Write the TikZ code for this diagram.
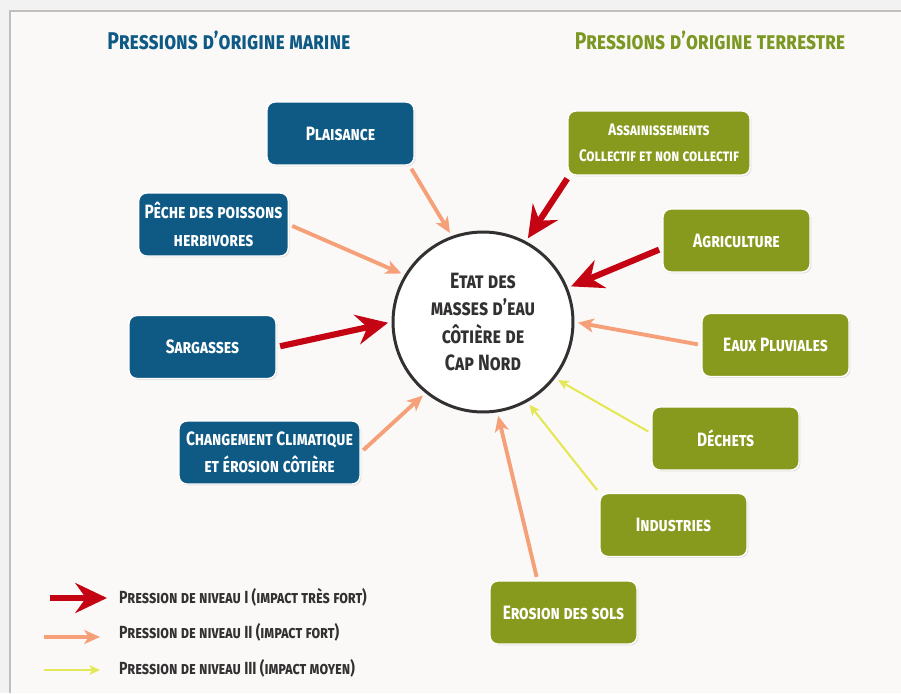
\documentclass[tikz,border=0pt]{standalone}
\usepackage{fontspec}
\setmainfont{Fira Sans}[FakeStretch=0.8]
\usepackage{tikz}
\usetikzlibrary{arrows.meta, %
                shadows, positioning}

\definecolor{BleuMer}{RGB}{14,90,133}
\definecolor{VertTerre}{RGB}{136,154,30}
\definecolor{VertTitre}{RGB}{124,152,36}
\definecolor{RougeFort}{RGB}{196,4,18}
\definecolor{Saumon}{RGB}{245,160,120}
\definecolor{JauneVert}{RGB}{228,232,86}
\definecolor{Fond}{RGB}{251,249,247}
\definecolor{Encre}{RGB}{50,48,48}

\begin{document}
\begin{tikzpicture}[x=0.02cm, y=-0.02cm]
    \tikzset{BoxStyle/.style = {rectangle, rounded corners=4.5pt, draw=white, line width=0.8pt,
        text=white, align=center, minimum width=2.94cm, minimum height=1.26cm,
        font=\fontsize{11}{15.5}\selectfont\bfseries\scshape,
        drop shadow={opacity=0.2, shadow xshift=0.8pt, shadow yshift=-0.8pt}}}
    \tikzset{MarineStyle/.style = {BoxStyle, fill=BleuMer}}
    \tikzset{TerreStyle/.style = {BoxStyle, fill=VertTerre}}
    \tikzset{EtatStyle/.style = {circle, draw=Encre, line width=1.7pt, fill=white,
        minimum size=3.6cm, inner sep=0pt, align=center, text=Encre,
        font=\fontsize{12.6}{15.4}\selectfont\bfseries\scshape,
        drop shadow={opacity=0.25, shadow xshift=0.6pt, shadow yshift=-0.6pt}}}
    \tikzset{TitreStyle/.style = {font=\fontsize{13.8}{16}\selectfont\bfseries\scshape}}
    \tikzset{LegendeStyle/.style = {anchor=west, text=Encre, font=\fontsize{10}{12}\selectfont\bfseries\scshape}}
    \tikzset{NiveauI/.style = {draw=RougeFort, line width=3.5pt, shorten <=2pt, shorten >=2pt,
        -{Stealth[length=18pt, width=17pt, inset=6pt]}}}
    \tikzset{NiveauII/.style = {draw=Saumon, line width=2.2pt, shorten <=2pt, shorten >=2pt,
        -{Stealth[length=9pt, width=8pt, inset=2.5pt]}}}
    \tikzset{NiveauIII/.style = {draw=JauneVert, line width=1.2pt, shorten <=2pt, shorten >=2pt,
        -{Stealth[length=6pt, width=5.5pt, inset=1.5pt]}}}

    % cadre
    \useasboundingbox (0,0) rectangle (901,693);
    \fill[black!5] (0,0) rectangle (901,693);
    \fill[Fond] (10,11) rectangle (901,693);
    \draw[black!25, line width=0.8pt] (10,693) -- (10,11) -- (901,11);

    % titres
    \node[TitreStyle, text=BleuMer](TitreMer) at (229,40){Pressions d’origine marine};
    \node[TitreStyle, text=VertTitre](TitreTerre) at (710,40){Pressions d’origine terrestre};

    \node[EtatStyle](Etat) at (483,322){Etat des\\masses d’eau\\côtière de\\Cap Nord};

    % pressions marines
    \node[MarineStyle](Plaisance) at (340.5,133.5){Plaisance};
    \node[MarineStyle](Peche) at (213.5,224.5){Pêche des poissons\\herbivores};
    \node[MarineStyle](Sargasses) at (202.5,347){Sargasses};
    \node[MarineStyle, minimum width=3.62cm](Climat) at (269.5,452.5){Changement Climatique\\et érosion côtière};

    % pressions terrestres
    \node[TerreStyle, minimum width=3.64cm, minimum height=1.28cm,
          font=\fontsize{9.5}{14.5}\selectfont\bfseries\scshape](Assain) at (659,143){Assainissements\\Collectif et non collectif};
    \node[TerreStyle](Agri) at (736.5,240.5){Agriculture};
    \node[TerreStyle](Pluie) at (775.5,345){Eaux Pluviales};
    \node[TerreStyle](Dechets) at (725.5,438.5){Déchets};
    \node[TerreStyle](Indus) at (673.5,525){Industries};
    \node[TerreStyle](ErosionSols) at (563.5,612.5){Erosion des sols};

    \draw[NiveauII](Plaisance.-25) -- (Etat.110);
    \draw[NiveauII](Peche.east) -- (Etat.149);
    \draw[NiveauI](Sargasses.east) -- (Etat.180);
    \draw[NiveauII](Climat.east) -- (Etat.231);

    \draw[NiveauI](Assain.200) -- (Etat.62);
    \draw[NiveauI](Agri.186) -- (Etat.22);
    \draw[NiveauII](Pluie.west) -- (Etat.0);
    \draw[NiveauIII](Dechets.176) -- (Etat.-38);
    \draw[NiveauIII](Indus.north west) -- (Etat.-61);
    \draw[NiveauII](ErosionSols.129) -- (Etat.-81);

    % legende
    \coordinate (L1a) at (50,598);
    \coordinate (L1b) at (107,598);
    \coordinate (L2a) at (44,637);
    \coordinate (L2b) at (100,637);
    \coordinate (L3a) at (44,670);
    \coordinate (L3b) at (100,670);
    \draw[NiveauI, shorten <=0pt, shorten >=0pt](L1a) -- (L1b);
    \draw[NiveauII, shorten <=0pt, shorten >=0pt](L2a) -- (L2b);
    \draw[NiveauIII, shorten <=0pt, shorten >=0pt](L3a) -- (L3b);
    \node[LegendeStyle](Leg1) at (113,597){Pression de niveau I (impact très fort)};
    \node[LegendeStyle](Leg2) at (113,632){Pression de niveau II (impact fort)};
    \node[LegendeStyle](Leg3) at (113,668){Pression de niveau III (impact moyen)};
\end{tikzpicture}
\end{document}
